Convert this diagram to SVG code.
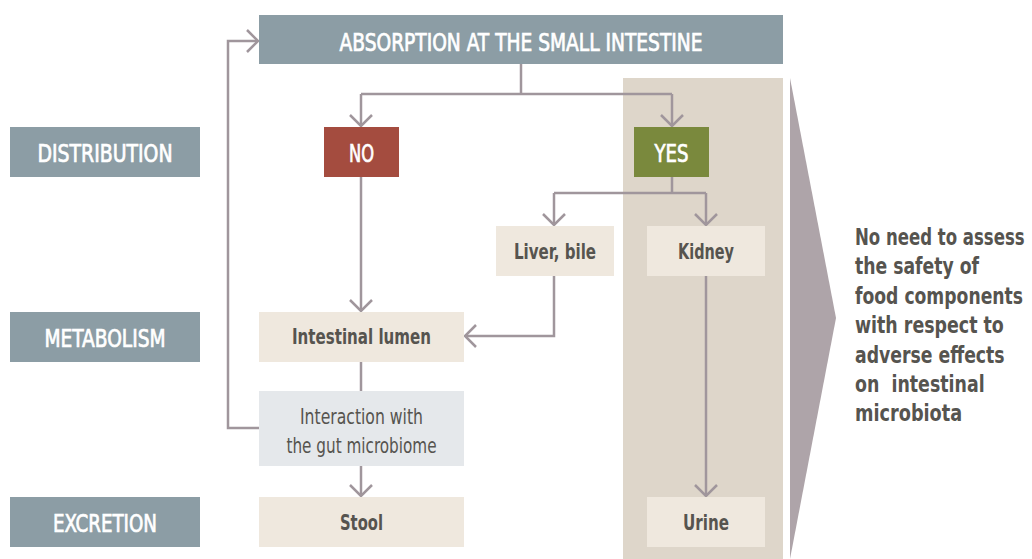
<svg xmlns="http://www.w3.org/2000/svg" width="1032" height="559" viewBox="0 0 1032 559">
<style>
.lab{fill:#8C9DA5}
.beige{fill:#EFE8DE}
.wt{fill:#FFFFFF;stroke:#FFFFFF;stroke-width:0.7;font-family:"DejaVu Sans Condensed","DejaVu Sans",sans-serif;font-stretch:condensed;font-size:24px;text-anchor:middle}
.dk{fill:#56544F;font-family:"DejaVu Sans Condensed","DejaVu Sans",sans-serif;font-stretch:condensed;font-size:22px;font-weight:bold;text-anchor:middle}
.rg{fill:#56544F;font-family:"DejaVu Sans Condensed","DejaVu Sans",sans-serif;font-stretch:condensed;font-size:22px;text-anchor:middle}
.rt{fill:#56544F;font-family:"DejaVu Sans Condensed","DejaVu Sans",sans-serif;font-stretch:condensed;font-size:23px;font-weight:bold;white-space:pre}
.cn{fill:none;stroke:#A0969C;stroke-width:2.5}
</style>
<defs>
<marker id="ah" markerUnits="userSpaceOnUse" viewBox="-14 -14 16 28" markerWidth="16" markerHeight="28" refX="0" refY="0" orient="auto">
<path d="M-11,-11 L0,0 L-11,11" fill="none" stroke="#A0969C" stroke-width="2.5"/>
</marker>
</defs>
<rect id="panel" x="623" y="78" width="160" height="481" fill="#DED6CA"/>
<polygon id="bracket" points="790,78 836,318 790,559" fill="#AEA4A9"/>
<g id="connectors" class="cn">
<path d="M521,64 V94"/>
<path d="M361,94 H672"/>
<path d="M361,94 V126" marker-end="url(#ah)"/>
<path d="M672,94 V126" marker-end="url(#ah)"/>
<path d="M361,177 V311" marker-end="url(#ah)"/>
<path d="M672,177 V193 M554,193 H706"/>
<path d="M554,193 V225" marker-end="url(#ah)"/>
<path d="M706,193 V225" marker-end="url(#ah)"/>
<path d="M554,276 V336 H465" marker-end="url(#ah)"/>
<path d="M706,276 V496" marker-end="url(#ah)"/>
<path d="M361,362 V391"/>
<path d="M361,466 V496" marker-end="url(#ah)"/>
<path d="M259,428 H228 V41 H258" marker-end="url(#ah)"/>
</g>
<g id="absorption"><rect class="lab" x="259" y="15" width="524" height="49"/><text class="wt" x="521" y="51" textLength="363" lengthAdjust="spacingAndGlyphs">ABSORPTION AT THE SMALL INTESTINE</text></g>
<g id="distribution"><rect class="lab" x="10" y="127" width="190" height="50"/><text class="wt" x="105" y="162" textLength="135" lengthAdjust="spacingAndGlyphs">DISTRIBUTION</text></g>
<g id="metabolism"><rect class="lab" x="10" y="312" width="190" height="50"/><text class="wt" x="105" y="347" textLength="121" lengthAdjust="spacingAndGlyphs">METABOLISM</text></g>
<g id="excretion"><rect class="lab" x="10" y="497" width="190" height="50"/><text class="wt" x="105" y="532" textLength="104" lengthAdjust="spacingAndGlyphs">EXCRETION</text></g>
<g id="no"><rect x="324" y="127" width="75" height="50" fill="#A44C3F"/><text class="wt" x="361.5" y="162" textLength="25" lengthAdjust="spacingAndGlyphs">NO</text></g>
<g id="yes"><rect x="634" y="127" width="75" height="50" fill="#7A893D"/><text class="wt" x="671.5" y="162" textLength="34" lengthAdjust="spacingAndGlyphs">YES</text></g>
<g id="liver"><rect class="beige" x="496" y="226" width="118" height="50"/><text class="dk" x="555" y="259" textLength="82" lengthAdjust="spacingAndGlyphs">Liver, bile</text></g>
<g id="kidney"><rect class="beige" x="647" y="226" width="118" height="50"/><text class="dk" x="706" y="259" textLength="56" lengthAdjust="spacingAndGlyphs">Kidney</text></g>
<g id="lumen"><rect class="beige" x="259" y="312" width="205" height="50"/><text class="dk" x="361.5" y="344" textLength="139" lengthAdjust="spacingAndGlyphs">Intestinal lumen</text></g>
<g id="interaction"><rect x="259" y="391" width="205" height="75" fill="#E5E8EB"/><text class="rg" x="361.5" y="424" textLength="123" lengthAdjust="spacingAndGlyphs">Interaction with</text><text class="rg" x="361.5" y="453" textLength="150" lengthAdjust="spacingAndGlyphs">the gut microbiome</text></g>
<g id="stool"><rect class="beige" x="259" y="497" width="205" height="50"/><text class="dk" x="361.5" y="530" textLength="43" lengthAdjust="spacingAndGlyphs">Stool</text></g>
<g id="urine"><rect class="beige" x="647" y="497" width="118" height="50"/><text class="dk" x="706" y="530" textLength="46" lengthAdjust="spacingAndGlyphs">Urine</text></g>
<g id="note" transform="translate(855 0) scale(0.8 1)">
<text class="rt" x="0" y="245" textLength="212" lengthAdjust="spacingAndGlyphs">No need to assess</text>
<text class="rt" x="0" y="274" textLength="155" lengthAdjust="spacingAndGlyphs">the safety of</text>
<text class="rt" x="0" y="304" textLength="210" lengthAdjust="spacingAndGlyphs">food components</text>
<text class="rt" x="0" y="333" textLength="186" lengthAdjust="spacingAndGlyphs">with respect to</text>
<text class="rt" x="0" y="363" textLength="187" lengthAdjust="spacingAndGlyphs">adverse effects</text>
<text class="rt" x="0" y="392" textLength="162" lengthAdjust="spacingAndGlyphs">on  intestinal</text>
<text class="rt" x="0" y="421" textLength="134" lengthAdjust="spacingAndGlyphs">microbiota</text>
</g>
</svg>
